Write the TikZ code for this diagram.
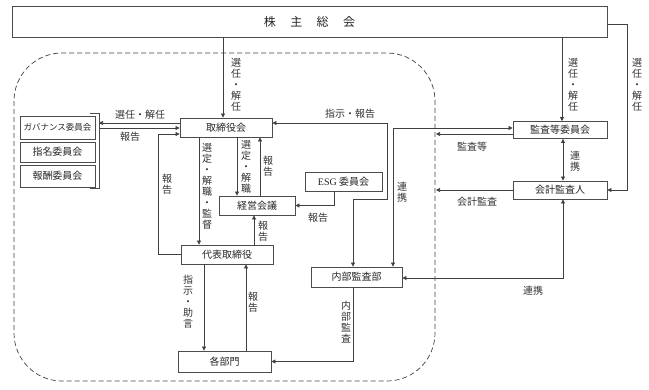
\documentclass[tikz,border=0pt]{standalone}
\usepackage{fontspec}
\setmainfont{Noto Sans CJK JP}
\newfontfamily\latinserif{Liberation Serif}
\usetikzlibrary{arrows.meta, positioning, calc}

\begin{document}
\begin{tikzpicture}[
    x=1pt, y=-1pt,
    box style/.style={
        draw=black!70,
        line width=0.8pt,
        inner sep=0pt,
        align=center,
        text=black!85,
        font=\fontsize{10}{11}\selectfont
    },
    arrow style/.style={
        line width=0.7pt,
        draw=black!75,
        -{Triangle[length=4pt,width=4pt]}
    },
    both style/.style={
        line width=0.7pt,
        draw=black!75,
        {Triangle[length=4pt,width=4pt]}-{Triangle[length=4pt,width=4pt]}
    },
    label style/.style={
        inner sep=0pt,
        align=center,
        text=black!80,
        font=\fontsize{10}{11}\selectfont
    }
]
\useasboundingbox (0,0) rectangle (649,389);

% Boundary of the board
\draw[dashed, dash pattern=on 5pt off 3pt, line width=0.7pt, black!75, rounded corners=48pt]
    (14,53) rectangle (435,381);

% Boxes
\node[box style, minimum width=595pt, minimum height=31pt, font=\fontsize{12}{14}\selectfont]
    (GM) at (309.5,21.5) {株\hspace{1.2em}主\hspace{1.2em}総\hspace{1.2em}会};
\node[box style, minimum width=92pt, minimum height=19pt] (BD)  at (226,127.5) {取締役会};
\node[box style, minimum width=75pt, minimum height=23pt, font=\fontsize{8.5}{10}\selectfont]
    (GC) at (57.5,127.5) {ガバナンス委員会};
\node[box style, minimum width=75pt, minimum height=20pt] (NC)  at (57.5,152) {指名委員会};
\node[box style, minimum width=75pt, minimum height=22pt] (RC)  at (57.5,176) {報酬委員会};
\node[box style, minimum width=76pt, minimum height=19pt] (KM)  at (257,205.5) {経営会議};
\node[box style, minimum width=77pt, minimum height=19pt] (ESG) at (343.5,181.5) {{\latinserif ESG} 委員会};
\node[box style, minimum width=92pt, minimum height=19pt] (DR)  at (227,254.5) {代表取締役};
\node[box style, minimum width=93pt, minimum height=21pt] (KB)  at (224.5,361.5) {各部門};
\node[box style, minimum width=91pt, minimum height=20pt] (IA)  at (356.5,277) {内部監査部};
\node[box style, minimum width=94pt, minimum height=17pt] (AC)  at (560,130) {監査等委員会};
\node[box style, minimum width=94pt, minimum height=18pt] (KA)  at (560,190) {会計監査人};

% Bracket round the committees
\coordinate (BKt) at (99,113);
\coordinate (BKb) at (99,188);
\draw[line width=0.7pt, black!70] (90,113) -- (BKt) -- (BKb) -- (90,188);

% Free ends on the boundary
\coordinate (DL1) at (436,134);
\coordinate (DL2) at (436,190);

% Connectors
\draw[arrow style] (223,0 |- GM.south) -- (223,0 |- BD.north);
\draw[arrow style] (562,0 |- GM.south) -- (562,0 |- AC.north);
\draw[arrow style] (GM.east |- 0,24) -- (627,24) |- (KA.east);
\draw[arrow style] (BD.west |- 0,123) -- (BKt |- 0,123);
\draw[arrow style] (BKt |- 0,128) -- (BD.west |- 0,128);
\draw[arrow style] (DR.west) -- (158,0 |- DR.west) -- (158,134) -- (BD.west |- 0,134);
\draw[arrow style] (199,0 |- BD.south) -- (199,0 |- DR.north);
\draw[arrow style] (237,0 |- BD.south) -- (237,0 |- KM.north);
\draw[arrow style] (260,0 |- KM.north) -- (260,0 |- BD.south);
\draw[arrow style] (254,0 |- DR.north) -- (254,0 |- KM.south);
\draw[arrow style] (334,0 |- ESG.south) |- (KM.east);
\draw[both style] (353,0 |- IA.north) -- (353,199) -- (387,199) -- (387,123) -- (BD.east |- 0,123);
\draw[both style] (393,0 |- IA.north) -- (393,128) -- (AC.west |- 0,128);
\draw[arrow style] (AC.west |- DL1) -- (DL1);
\draw[both style] (563,0 |- AC.south) -- (563,0 |- KA.north);
\draw[arrow style] (KA.west) -- (DL2);
\draw[both style] (563,0 |- KA.south) -- (563,278) -- (IA.east |- 0,278);
\draw[arrow style] (204,0 |- DR.south) -- (204,0 |- KB.north);
\draw[arrow style] (246,0 |- KB.north) -- (246,0 |- DR.south);
\draw[arrow style] (353,0 |- IA.south) |- (KB.east);

% Labels
\node[label style] (l1)  at (236,85)  {選\\任\\・\\解\\任};
\node[label style] (l2)  at (573,85)  {選\\任\\・\\解\\任};
\node[label style] (l3)  at (637,85)  {選\\任\\・\\解\\任};
\node[label style] (l4)  at (140,115) {選任・解任};
\node[label style] (l5)  at (130,137) {報告};
\node[label style] (l6)  at (167,184) {報\\告};
\node[label style] (l7)  at (207,186) {選\\定\\・\\解\\職\\・\\監\\督};
\node[label style] (l8)  at (246,167) {選\\定\\・\\解\\職};
\node[label style] (l9)  at (268,166) {報\\告};
\node[label style] (l10) at (263,231) {報\\告};
\node[label style] (l11) at (318,218) {報告};
\node[label style] (l12) at (350,114) {指示・報告};
\node[label style] (l13) at (402,192) {連\\携};
\node[label style] (l14) at (472,147) {監査等};
\node[label style] (l15) at (575,161) {連\\携};
\node[label style] (l16) at (477,202) {会計監査};
\node[label style] (l17) at (533,291) {連携};
\node[label style] (l18) at (188,302) {指\\示\\・\\助\\言};
\node[label style] (l19) at (253,302) {報\\告};
\node[label style] (l20) at (346,322) {内\\部\\監\\査};

\end{tikzpicture}
\end{document}
